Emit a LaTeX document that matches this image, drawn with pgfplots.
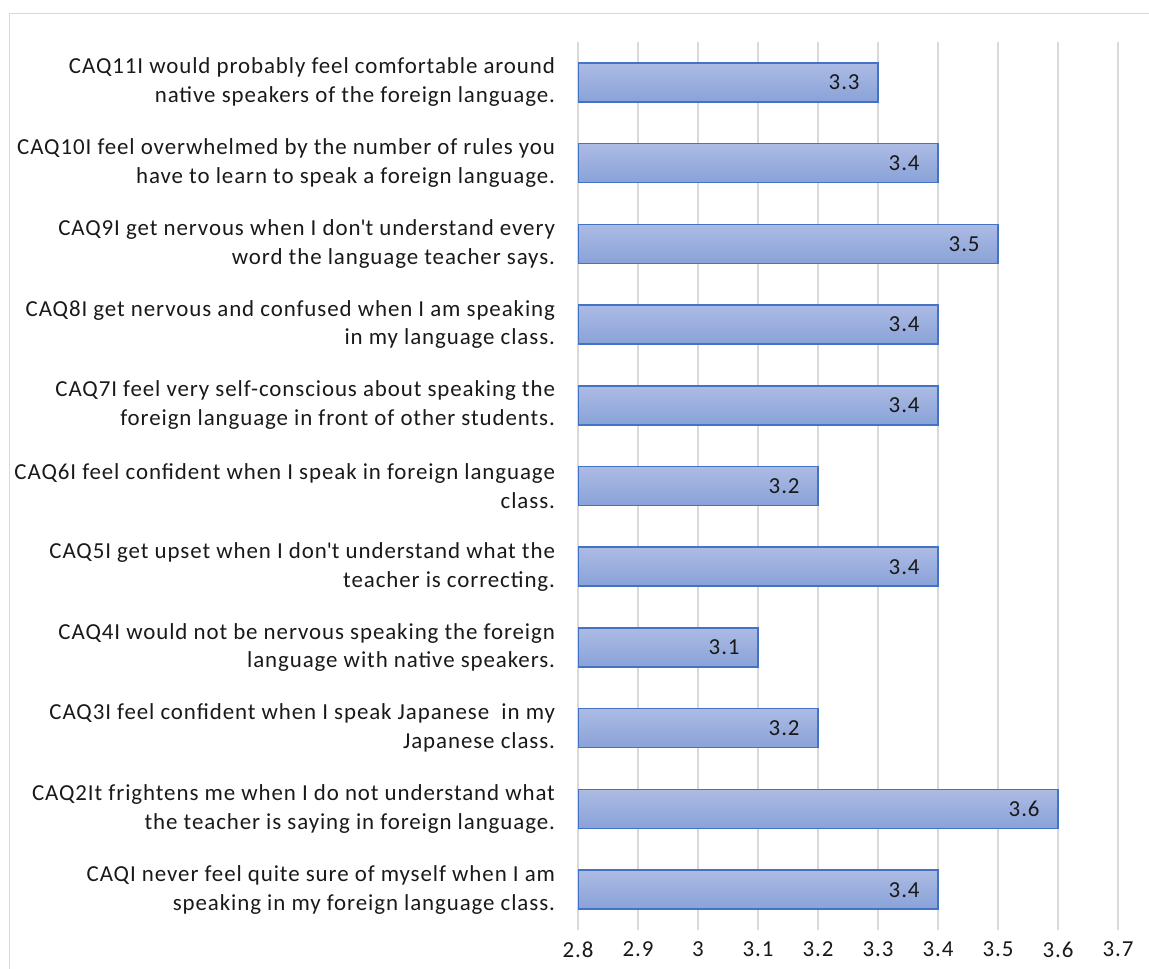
\documentclass[border=0pt]{standalone}
\usepackage{pgfplots}
\pgfplotsset{compat=1.18}
\usepackage{fontspec}
\setmainfont{Carlito}[LetterSpace=4]
\definecolor{barTop}{RGB}{172,187,228}
\definecolor{barBot}{RGB}{137,162,216}
\definecolor{barEdge}{RGB}{68,114,196}
\definecolor{gridGray}{RGB}{217,217,217}
\definecolor{frameGray}{RGB}{217,217,217}
\newcommand{\lblfont}{\fontsize{11.5}{14.5}\selectfont}
\pgfplotsset{cbar/.style={draw=barEdge, line width=0.8bp, top color=barTop, bottom color=barBot}}

\begin{document}
\begin{tikzpicture}[x=1bp,y=1bp]
\begin{axis}[
    at={(289bp,-21bp)}, anchor=north west,
    scale only axis,
    width=270bp, height=444bp,
    xbar, bar width=19.5bp, bar shift=0pt,
    xmin=2.8, xmax=3.7,
    ymin=-0.5, ymax=10.5,
    xtick={2.8,2.9,...,3.75},
    ytick={0,...,10},
    xticklabel style={/pgf/number format/fixed, /pgf/number format/precision=1, yshift=-2.5bp},
    /pgf/number format/assume math mode=true,
    yticklabels={
      {CAQI never feel quite sure of myself when I am\\speaking in my foreign language class.},
      {CAQ2It frightens me when I do not understand what\\the teacher is saying in foreign language.},
      {CAQ3I feel confident when I speak Japanese\ \ in my\\Japanese class.},
      {CAQ4I would not be nervous speaking the foreign\\language with native speakers.},
      {CAQ5I get upset when I don\textquotesingle t understand what the\\teacher is correcting.},
      {CAQ6I feel confident when I speak in foreign language\\class.},
      {CAQ7I feel very self-conscious about speaking the\\foreign language in front of other students.},
      {CAQ8I get nervous and confused when I am speaking\\in my language class.},
      {CAQ9I get nervous when I don\textquotesingle t understand every\\word the language teacher says.},
      {CAQ10I feel overwhelmed by the number of rules you\\have to learn to speak a foreign language.},
      {CAQ11I would probably feel comfortable around\\native speakers of the foreign language.}
    },
    yticklabel style={align=right, xshift=-8bp},
    tick label style={font=\lblfont, text=black!90},
    major tick length=0pt,
    axis line style={draw=none},
    xmajorgrids, grid style={gridGray, line width=0.8bp},
    nodes near coords,
    nodes near coords style={anchor=east, xshift=-5.5bp, font=\lblfont, text=black!90,
      /pgf/number format/fixed, /pgf/number format/precision=1},
    clip=true,
]
\addplot[cbar] coordinates {(3.4,0)};
\addplot[cbar] coordinates {(3.6,1)};
\addplot[cbar] coordinates {(3.2,2)};
\addplot[cbar] coordinates {(3.1,3)};
\addplot[cbar] coordinates {(3.4,4)};
\addplot[cbar] coordinates {(3.2,5)};
\addplot[cbar] coordinates {(3.4,6)};
\addplot[cbar] coordinates {(3.4,7)};
\addplot[cbar] coordinates {(3.5,8)};
\addplot[cbar] coordinates {(3.4,9)};
\addplot[cbar] coordinates {(3.3,10)};
\end{axis}
\draw[frameGray, line width=0.8bp] (4.75,-600) -- (4.75,-6.75) -- (700,-6.75);
\pgfresetboundingbox
\path[use as bounding box] (0,0) rectangle (574.5,-484.5);
\end{tikzpicture}
\end{document}
